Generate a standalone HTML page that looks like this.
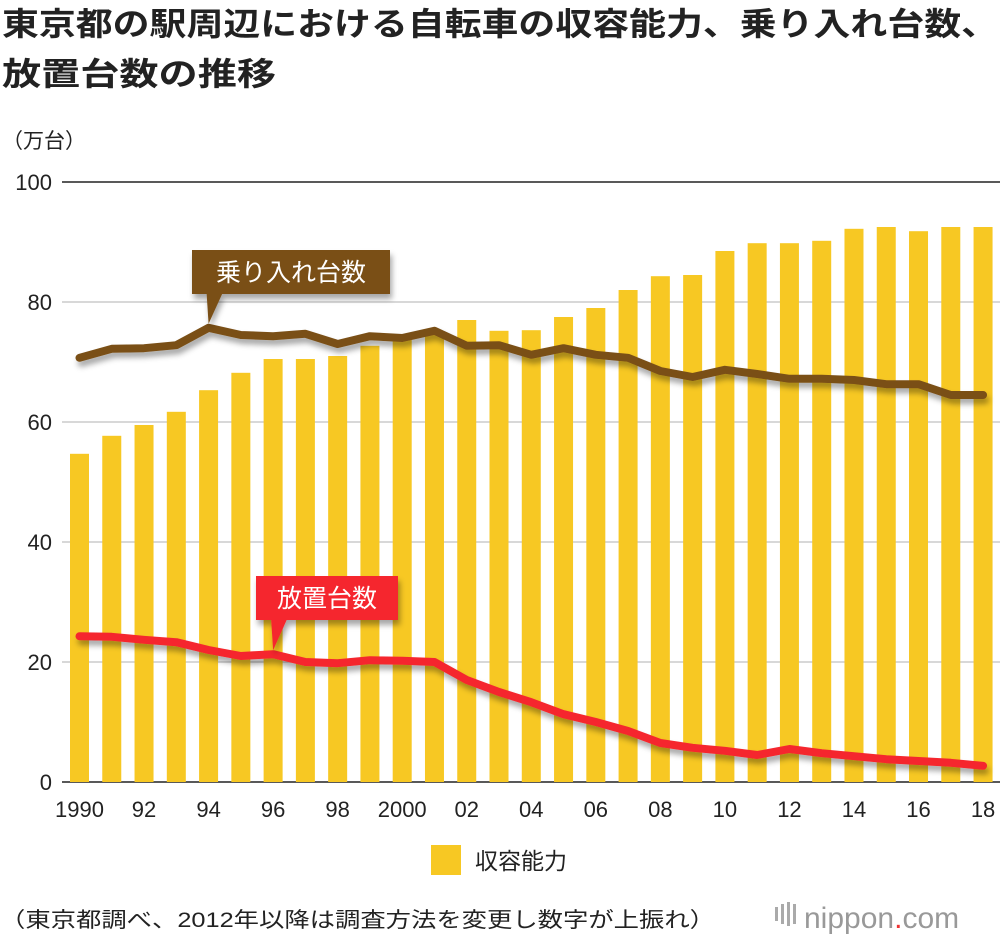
<!DOCTYPE html>
<html><head><meta charset="utf-8">
<style>
body{margin:0;background:#fff;width:1000px;height:940px;overflow:hidden;font-family:"Liberation Sans","Noto Sans CJK JP",sans-serif;}
</style></head>
<body>
<svg width="1000" height="940" style="position:absolute;left:0;top:0">
<defs><filter id="sh" x="-10%" y="-50%" width="130%" height="250%"><feDropShadow dx="2" dy="5" stdDeviation="3" flood-color="#000" flood-opacity="0.35"/></filter></defs>
<text x="2" y="35" font-size="32" font-weight="bold" fill="#222" textLength="996" lengthAdjust="spacingAndGlyphs" font-family="Liberation Sans,Noto Sans CJK JP,sans-serif">東京都の駅周辺における自転車の収容能力、乗り入れ台数、</text>
<text x="2" y="85" font-size="32" font-weight="bold" fill="#222" textLength="274" lengthAdjust="spacingAndGlyphs" font-family="Liberation Sans,Noto Sans CJK JP,sans-serif">放置台数の推移</text>
<text x="2" y="148" font-size="21" fill="#222" font-family="Liberation Sans,Noto Sans CJK JP,sans-serif">（万台）</text>
<g id="grid"></g><g id="bars"></g><g id="lines"></g><g id="xt"></g>
<g>
<rect x="431" y="845" width="30" height="30" fill="#f7c823"/>
<text x="475" y="869" font-size="23" fill="#222" font-family="Liberation Sans,Noto Sans CJK JP,sans-serif">収容能力</text></g>
<text x="0" y="927" font-size="21" fill="#222" textLength="715" lengthAdjust="spacingAndGlyphs" font-family="Liberation Sans,Noto Sans CJK JP,sans-serif">（東京都調べ、2012年以降は調査方法を変更し数字が上振れ）</text>
<g>
<rect x="775" y="907" width="3" height="14" fill="#aaa"/><rect x="781" y="904" width="3" height="20" fill="#aaa"/><rect x="787" y="902" width="3" height="24" fill="#aaa"/><rect x="793" y="904" width="3" height="20" fill="#aaa"/>
<text x="804" y="928" font-size="30" fill="#999" font-family="Liberation Sans,sans-serif">nippon<tspan fill="#e33">.</tspan>com</text></g>
</svg>
<script>
const years=[1990,1991,1992,1993,1994,1995,1996,1997,1998,1999,2000,2001,2002,2003,2004,2005,2006,2007,2008,2009,2010,2011,2012,2013,2014,2015,2016,2017,2018];
const capacity=[54.7,57.7,59.5,61.7,65.3,68.2,70.5,70.5,71,72.7,73.7,74.5,77,75.2,75.3,77.5,79,82,84.3,84.5,88.5,89.8,89.8,90.2,92.2,92.5,91.8,92.5,92.5];
const parked=[70.7,72.2,72.3,72.8,75.7,74.5,74.3,74.7,73,74.3,74,75.2,72.7,72.8,71.2,72.3,71.2,70.7,68.5,67.5,68.7,68,67.2,67.2,67,66.3,66.3,64.5,64.5];
const abandoned=[24.3,24.2,23.7,23.3,22,21,21.3,20,19.8,20.3,20.2,20,17,15,13.3,11.3,10,8.5,6.5,5.7,5.2,4.5,5.5,4.8,4.3,3.8,3.5,3.2,2.7];
const yTicks=[0,20,40,60,80,100];
const xLabels=["1990","92","94","96","98","2000","02","04","06","08","10","12","14","16","18"];
const NS="http://www.w3.org/2000/svg";
const y=v=>782-v*6;
const x=i=>79.5+i*32.27;
function mk(t,a,p){const e=document.createElementNS(NS,t);for(const k in a)e.setAttribute(k,a[k]);p.appendChild(e);return e;}
const grid=document.getElementById('grid');
yTicks.forEach(v=>{
 const l=mk('line',{x1:62,x2:1000,y1:y(v),y2:y(v),stroke:v===0||v===100?'#222':'#ccc','stroke-width':1.5},grid);
 
 
 const t=mk('text',{x:52,y:y(v)+8,'text-anchor':'end','font-size':22,fill:'#222','font-family':'Liberation Sans,sans-serif'},grid);
 t.textContent=v;
 
 
});
const bars=document.getElementById('bars');
capacity.forEach((v,i)=>{
 const r=mk('rect',{x:x(i)-9.5,y:y(v),width:19,height:y(0)-y(v),fill:'#f7c823'},bars);
 
 
});
const lines=document.getElementById('lines');
function line(d,c,name){
 const p=mk('polyline',{points:d.map((v,i)=>x(i)+','+y(v)).join(' '),fill:'none',stroke:c,'stroke-width':8,'stroke-linejoin':'round','stroke-linecap':'round',filter:'url(#sh)'},lines);
 
 
}
line(parked,'#7a5019','parked-line');
line(abandoned,'#f5282d','abandoned-line');
function callout(bx,by,w,idx,d,c,txt,name){
 const g=mk('g',{filter:'url(#sh)'},lines);
 
 
 const px=x(idx),py=y(d[idx])-4;
 mk('rect',{x:bx,y:by,width:w,height:44,fill:c},g);
 mk('polygon',{points:`${px-2},${by+43} ${px+14},${by+43} ${px},${py}`,fill:c},g);
 const t=mk('text',{x:bx+w/2,y:by+31,'text-anchor':'middle','font-size':25,fill:'#fff','font-family':'Liberation Sans,Noto Sans CJK JP,sans-serif'},g);
 t.textContent=txt;
}
callout(192,250,198,4,parked,'#7a5019','乗り入れ台数','parked-label');
callout(256,576,142,6,abandoned,'#f5282d','放置台数','abandoned-label');
const xt=document.getElementById('xt');
xLabels.forEach((s,k)=>{
 const t=mk('text',{x:x(k*2),y:817,'text-anchor':'middle','font-size':22,fill:'#222','font-family':'Liberation Sans,sans-serif'},xt);
 t.textContent=s;
 
 
});
</script>
</body></html>
